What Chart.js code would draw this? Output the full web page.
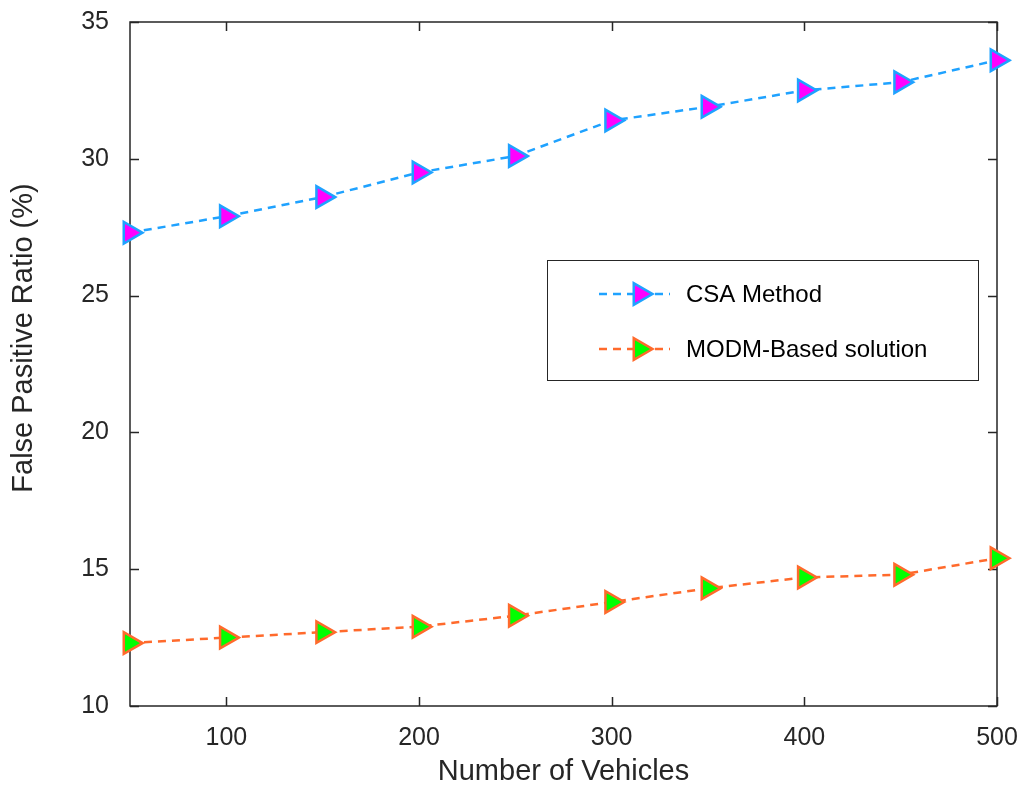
<!DOCTYPE html>
<html>
<head>
<meta charset="utf-8">
<script src="https://cdn.jsdelivr.net/npm/chart.js@4/dist/chart.umd.min.js"></script>
<style>
    html, body { margin: 0; padding: 0; background: #fff; }
    #wrap { width: 1021px; height: 785px; }
</style>
</head>
<body>
<div id="wrap"><canvas id="ratioChart" width="1021" height="785"></canvas></div>
<script>
// values
const vehicles = [50, 100, 150, 200, 250, 300, 350, 400, 450, 500];
const csaRatio = [27.3, 27.9, 28.6, 29.5, 30.1, 31.4, 31.9, 32.5, 32.8, 33.6];
const modmRatio = [12.3, 12.5, 12.7, 12.9, 13.3, 13.8, 14.3, 14.7, 14.8, 15.4];
const seriesNames = ['CSA Method', 'MODM-Based solution'];
const xTicks = [100, 200, 300, 400, 500];
const yTicks = [10, 15, 20, 25, 30, 35];
const xTitle = 'Number of Vehicles';
const yTitle = 'False Pasitive Ratio (%)';

const FONT = "'Liberation Sans', Arial, Helvetica, sans-serif";
const TEXT = '#262626';
const AXIS = '#262626';

function triangle(ctx, x, y, r, fill, stroke, lw) {
    // right-pointing triangle, same geometry as Chart.js 'triangle' rotated 90deg
    ctx.save();
    ctx.beginPath();
    ctx.moveTo(x + r, y);
    ctx.lineTo(x - r / 2, y + r * Math.sqrt(3) / 2);
    ctx.lineTo(x - r / 2, y - r * Math.sqrt(3) / 2);
    ctx.closePath();
    ctx.fillStyle = fill;
    ctx.fill();
    ctx.lineWidth = lw;
    ctx.strokeStyle = stroke;
    ctx.stroke();
    ctx.restore();
}

const boxPlugin = {
    id: 'matlabBox',
    beforeDatasetsDraw(chart) {
        const { ctx, chartArea: a, scales } = chart;
        const tick = 9;
        ctx.save();
        ctx.strokeStyle = AXIS;
        ctx.lineWidth = 1.5;
        ctx.strokeRect(a.left, a.top, a.right - a.left, a.bottom - a.top);
        ctx.beginPath();
        xTicks.forEach(v => {
            const px = Math.round(scales.x.getPixelForValue(v)) + 0.5;
            ctx.moveTo(px, a.bottom); ctx.lineTo(px, a.bottom - tick);
            ctx.moveTo(px, a.top); ctx.lineTo(px, a.top + tick);
        });
        yTicks.forEach(v => {
            const py = Math.round(scales.y.getPixelForValue(v)) + 0.5;
            ctx.moveTo(a.left, py); ctx.lineTo(a.left + tick, py);
            ctx.moveTo(a.right, py); ctx.lineTo(a.right - tick, py);
        });
        ctx.stroke();

        // y title, placed like the original (not centred on the axis)
        ctx.translate(24, 338);
        ctx.rotate(-Math.PI / 2);
        ctx.fillStyle = TEXT;
        ctx.font = '29px ' + FONT;
        ctx.textAlign = 'center';
        ctx.textBaseline = 'middle';
        ctx.fillText(yTitle, 0, 0);
        ctx.restore();
    },
    afterDraw(chart) {
        const { ctx } = chart;
        const box = { x: 547, y: 260, w: 431, h: 120 };
        ctx.save();
        ctx.fillStyle = '#fff';
        ctx.fillRect(box.x, box.y, box.w, box.h);
        ctx.strokeStyle = AXIS;
        ctx.lineWidth = 1;
        ctx.strokeRect(box.x + 0.5, box.y + 0.5, box.w, box.h);

        chart.data.datasets.forEach((ds, i) => {
            const y = 294 + i * 55;
            ctx.save();
            ctx.strokeStyle = ds.borderColor;
            ctx.lineWidth = 2.5;
            ctx.setLineDash([8, 6]);
            ctx.beginPath();
            ctx.moveTo(599, y);
            ctx.lineTo(670, y);
            ctx.stroke();
            ctx.restore();
            triangle(ctx, 640, y, 12.5, ds.pointBackgroundColor, ds.pointBorderColor, 2.5);
            ctx.fillStyle = '#000';
            ctx.font = '24px ' + FONT;
            ctx.textAlign = 'left';
            ctx.textBaseline = 'middle';
            ctx.fillText(ds.label, 686, y + 1);
        });
        ctx.restore();
    }
};

function makeSeries(label, data, line, fill) {
    return {
        label: label,
        data: data,
        borderColor: line,
        borderWidth: 2.5,
        borderDash: [8, 6],
        tension: 0,
        fill: false,
        pointStyle: 'triangle',
        pointRotation: 90,
        pointRadius: 12.5,
        pointHoverRadius: 12.5,
        pointBackgroundColor: fill,
        pointBorderColor: line,
        pointBorderWidth: 2.5,
        clip: false
    };
}

new Chart(document.getElementById('ratioChart').getContext('2d'), {
    type: 'line',
    data: {
        labels: vehicles,
        datasets: [
            makeSeries(seriesNames[0], csaRatio, '#1fa2ff', '#ff00ff'),
            makeSeries(seriesNames[1], modmRatio, '#ff6a2c', '#00ff00')
        ]
    },
    options: {
        responsive: false,
        animation: false,
        devicePixelRatio: 1,
        layout: { padding: { left: 0, top: 22, right: 24, bottom: 0 } },
        plugins: {
            legend: { display: false },
            tooltip: { enabled: false }
        },
        scales: {
            x: {
                type: 'linear',
                min: 50,
                max: 500,
                afterBuildTicks: s => { s.ticks = xTicks.map(v => ({ value: v })); },
                afterFit: s => { s.height = 79; s.paddingLeft = 0; s.paddingRight = 0; },
                grid: { display: false },
                border: { display: false },
                ticks: {
                    color: TEXT,
                    font: { family: FONT, size: 25 },
                    padding: 9,
                    maxRotation: 0,
                    autoSkip: false
                },
                title: {
                    display: true,
                    text: xTitle,
                    color: TEXT,
                    font: { family: FONT, size: 29, lineHeight: 0.9 },
                    padding: { top: 0, bottom: 0 }
                }
            },
            y: {
                min: 10,
                max: 35,
                afterBuildTicks: s => { s.ticks = yTicks.map(v => ({ value: v })); },
                afterFit: s => { s.width = 130; s.paddingTop = 0; s.paddingBottom = 0; },
                grid: { display: false },
                border: { display: false },
                ticks: {
                    color: TEXT,
                    font: { family: FONT, size: 25 },
                    padding: 13
                }
            }
        }
    },
    plugins: [boxPlugin]
});
</script>
</body>
</html>
